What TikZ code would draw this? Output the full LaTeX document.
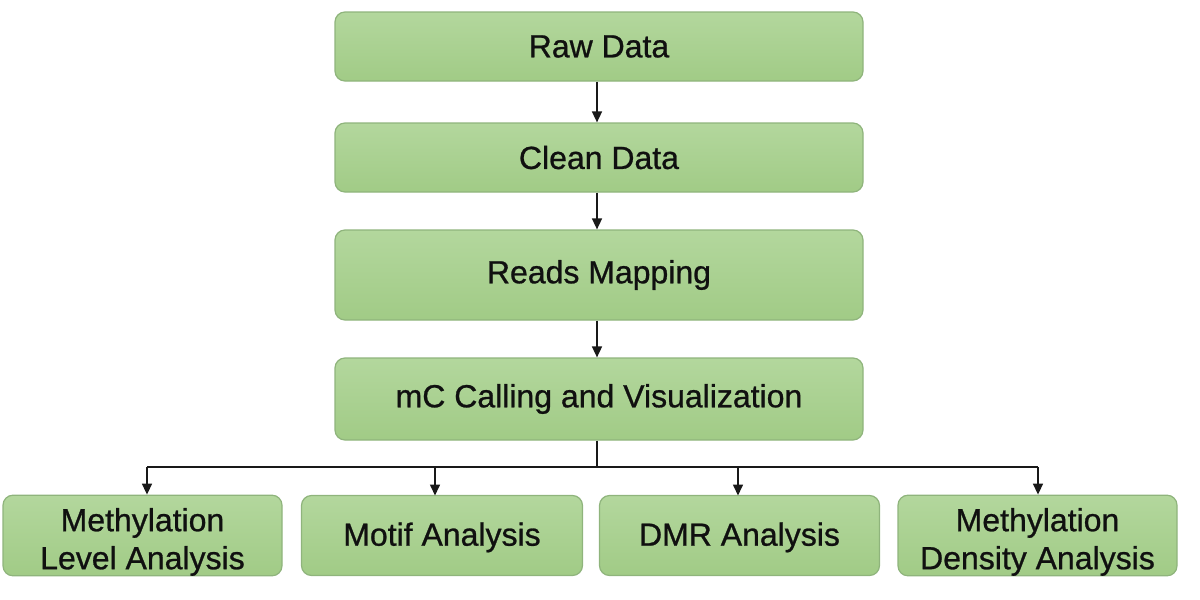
\documentclass[tikz,border=0pt]{standalone}
\usepackage{fontspec}
\setmainfont{Liberation Sans}[FakeBold=1.2]
\newfontfamily\boxfont{Liberation Sans}[FakeBold=0.8,AutoFakeBold=0.8]
\usetikzlibrary{arrows.meta}
\definecolor{boxtop}{HTML}{B3D79D}
\definecolor{boxbot}{HTML}{A1CB86}
\definecolor{boxline}{HTML}{8FB47C}
\definecolor{txt}{HTML}{101010}
\tikzset{
  flowbox/.style={draw=boxline, line width=1.2pt, rounded corners=10pt,
    top color=boxtop, bottom color=boxbot, text=txt, align=center,
    font=\fontsize{32}{38}\selectfont\boxfont, inner sep=0pt},
  conn/.style={line width=1.6pt, draw=black!90, -{Triangle[length=11pt,width=10pt]}},
  plain/.style={line width=1.6pt, draw=black!90}
}
\begin{document}
\begin{tikzpicture}[x=1pt,y=-1pt]
\useasboundingbox (0,0) rectangle (1200,600);
\node[flowbox, minimum width=528pt, minimum height=69pt] (raw) at (599,46.5) {Raw Data};
\node[flowbox, minimum width=528pt, minimum height=69pt] (clean) at (599,157.5) {Clean Data};
\node[flowbox, minimum width=528pt, minimum height=90pt] (reads) at (599,275) {Reads Mapping};
\node[flowbox, minimum width=528pt, minimum height=82pt] (mc) at (599,399) {mC Calling and Visualization};
\node[flowbox, minimum width=279pt, minimum height=80pt] (a) at (142.5,535.5) {\rule{0pt}{36pt}Methylation\\Level Analysis};
\node[flowbox, minimum width=281pt, minimum height=80pt] (b) at (442,535.5) {\rule{0pt}{27pt}Motif Analysis};
\node[flowbox, minimum width=280pt, minimum height=80pt] (c) at (739.5,535.5) {\rule{0pt}{27pt}DMR Analysis};
\node[flowbox, minimum width=279pt, minimum height=80pt] (d) at (1037.5,535.5) {\rule{0pt}{36pt}Methylation\\Density Analysis};
\coordinate (hub) at (597,467);
\coordinate (hl) at (147,467);
\coordinate (hr) at (1038,467);
\draw[conn] (raw.south -| hub) -- (clean.north -| hub);
\draw[conn] (clean.south -| hub) -- (reads.north -| hub);
\draw[conn] (reads.south -| hub) -- (mc.north -| hub);
\draw[plain] (mc.south -| hub) -- (hub);
\draw[plain] (hl) -- (hr);
\draw[conn] (hl) -- (hl |- a.north);
\draw[conn] (435,467) -- (435,495.5);
\draw[conn] (738,467) -- (738,495.5);
\draw[conn] (hr) -- (hr |- d.north);
\end{tikzpicture}
\end{document}
